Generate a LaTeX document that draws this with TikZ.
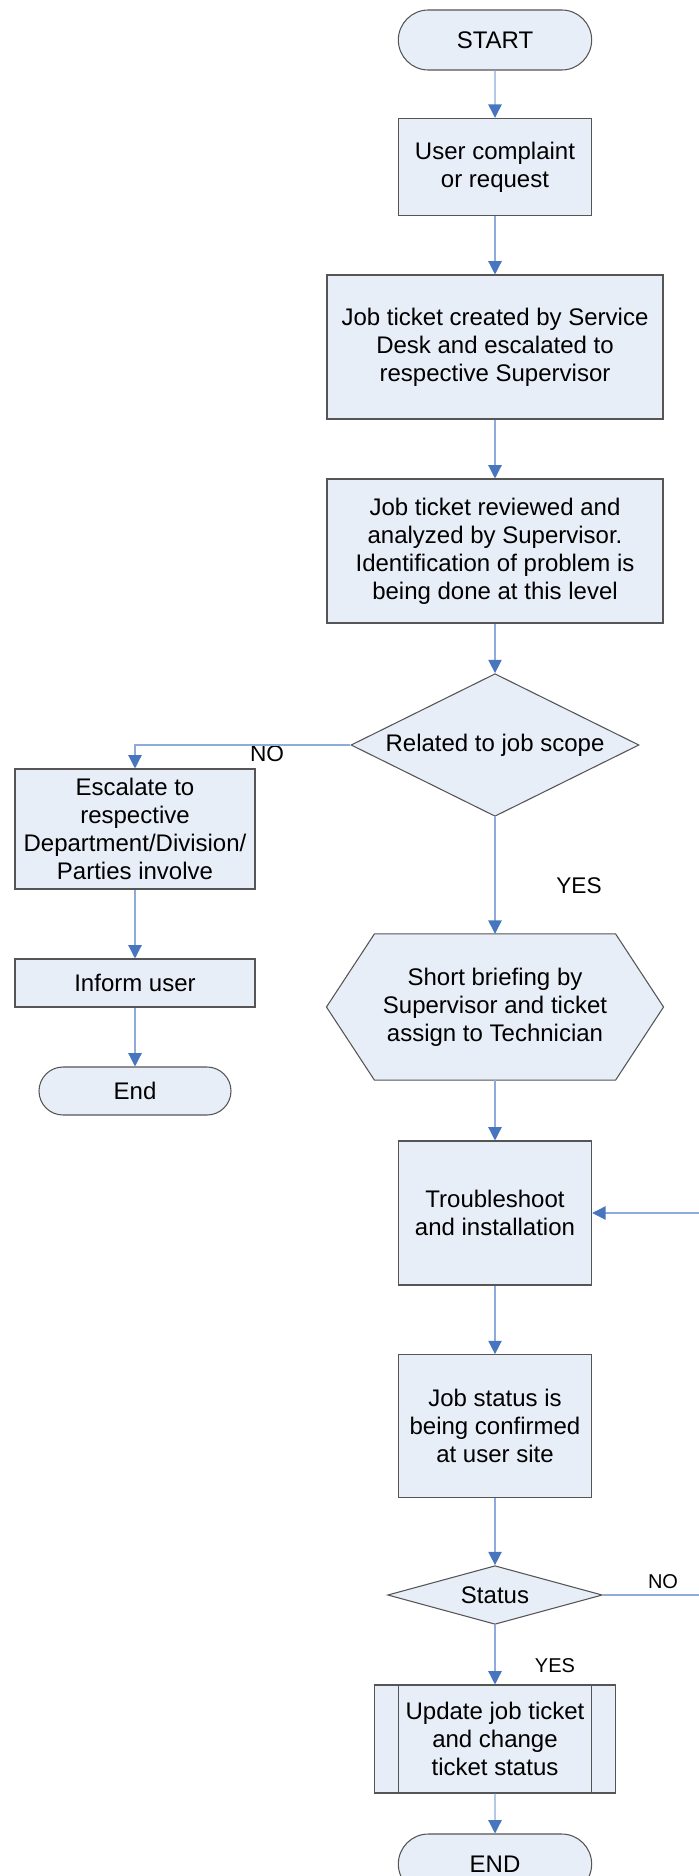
\documentclass[tikz,border=0pt]{standalone}
\usepackage{fontspec}
\setmainfont{Liberation Sans}
\usetikzlibrary{arrows.meta, shapes.geometric, shapes.misc, backgrounds}
\definecolor{fcfill}{RGB}{232,238,247}
\definecolor{fcedge}{RGB}{85,85,85}
\definecolor{linkblue}{RGB}{143,170,220}
\definecolor{headblue}{RGB}{72,118,190}
\tikzset{
    fcbox/.style={draw=fcedge, fill=fcfill, line width=0.8pt, align=center, inner sep=0pt, font=\fontsize{18}{21}\selectfont},
    fcterm/.style={fcbox, rounded rectangle, minimum width=145pt, minimum height=45pt},
    fcdecide/.style={fcbox, diamond},
    fcarrow/.style={draw=linkblue, line width=1pt, -{Triangle[length=10pt, width=10pt, color=headblue]}},
    fclabel/.style={inner sep=0pt, font=\fontsize{17}{20}\selectfont},
    fcsmall/.style={inner sep=0pt, font=\fontsize{15}{18}\selectfont}
}

\begin{document}
\begin{tikzpicture}[x=0.75pt, y=-0.75pt]
  \clip (0,0) rectangle (699,1876);
  % main column
  \node[fcterm] (start) at (495,40) {START};
  \node[fcbox, minimum width=145pt, minimum height=73pt] (complaint) at (495,167) {User complaint\\or request};
  \node[fcbox, minimum width=252pt, minimum height=108pt] (created) at (495,347) {Job ticket created by Service\\Desk and escalated to\\respective Supervisor};
  \node[fcbox, minimum width=252pt, minimum height=108pt] (reviewed) at (495,551) {Job ticket reviewed and\\analyzed by Supervisor.\\Identification of problem is\\being done at this level};
  \node[fcdecide, aspect=2, minimum width=216pt, minimum height=107pt] (scope) at (495,745) {Related to job scope};
  \node[fcbox, draw=none, fill=none, minimum width=252pt, minimum height=109pt] (brief) at (495,1007) {Short briefing by\\Supervisor and ticket\\assign to Technician};
  \node[fcbox, minimum width=145pt, minimum height=108pt] (trouble) at (495,1213) {Troubleshoot\\and installation};
  \node[fcbox, minimum width=145pt, minimum height=107pt] (confirm) at (495,1426) {Job status is\\being confirmed\\at user site};
  \node[fcdecide, aspect=3.6, minimum width=161pt, minimum height=44pt] (status) at (495,1595) {Status};
  \node[fcbox, minimum width=181pt, minimum height=81pt] (update) at (495,1739) {Update job ticket\\and change\\ticket status};
  \node[fcterm] (finish) at (495,1864) {END};
  % left branch
  \node[fcbox, minimum width=180pt, minimum height=90pt] (escalate) at (135,829) {Escalate to\\respective\\Department/Division/\\Parties involve};
  \node[fcbox, minimum width=180pt, minimum height=36pt] (inform) at (135,983) {Inform user};
  \node[fcterm, minimum width=144pt, minimum height=36pt] (endleft) at (135,1091) {End};
  % hexagon and subprocess bars
  \begin{pgfonlayer}{background}
    \draw[fcedge, fill=fcfill, line width=0.8pt] (brief.west) -- ([xshift=36pt]brief.north west) -- ([xshift=-36pt]brief.north east)
      -- (brief.east) -- ([xshift=-36pt]brief.south east) -- ([xshift=36pt]brief.south west) -- cycle;
  \end{pgfonlayer}
  \draw[fcedge, line width=0.8pt] ([xshift=18.75pt]update.north west) -- ([xshift=18.75pt]update.south west);
  \draw[fcedge, line width=0.8pt] ([xshift=-18.75pt]update.north east) -- ([xshift=-18.75pt]update.south east);
  % labels
  \node[fclabel] (no1) at (267,754) {NO};
  \node[fclabel] (yes1) at (579,886) {YES};
  \node[fcsmall] (no2) at (663,1582) {NO};
  \node[fcsmall] (yes2) at (555,1666) {YES};
  % connectors
  \foreach \a/\b in {start/complaint, complaint/created, created/reviewed, reviewed/scope, scope/brief,
                     brief/trouble, trouble/confirm, confirm/status, status/update, update/finish,
                     escalate/inform, inform/endleft} {
      \draw[fcarrow] (\a) -- (\b);
  }
  \draw[fcarrow] (scope.west) -| (escalate.north);
  \coordinate (loopr) at (720,1595);
  \draw[fcarrow] (status.east) -- (loopr) |- (trouble.east);
\end{tikzpicture}
\end{document}
